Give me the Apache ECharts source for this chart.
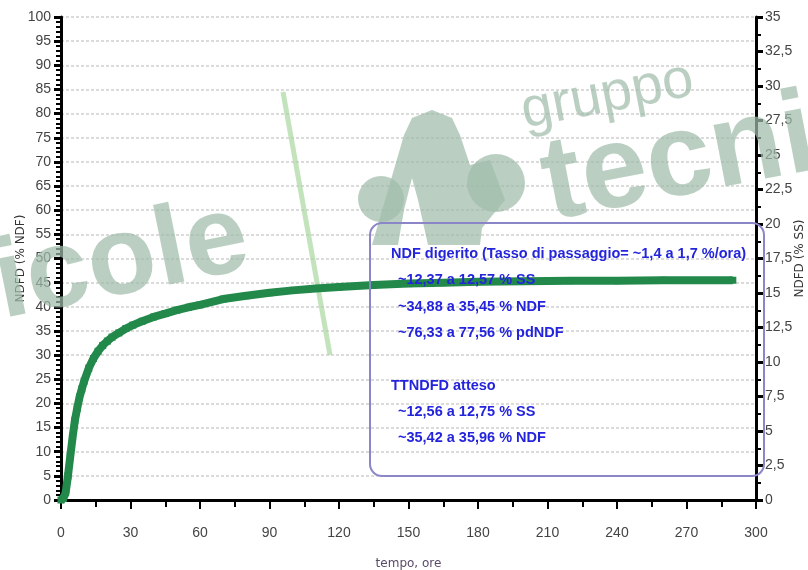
<!DOCTYPE html>
<html>
<head>
<meta charset="utf-8">
<script src="https://cdn.jsdelivr.net/npm/echarts@6/dist/echarts.min.js"></script>
<style>
  html, body { margin: 0; padding: 0; background: #fff; }
  #main { width: 808px; height: 570px; }
</style>
</head>
<body>
<div id="main"></div>
<script>
// ore
const tempo = [0, 1, 2, 3, 4, 5, 6, 7, 8, 9, 10, 12, 14, 16, 18, 20, 22, 25, 28, 31, 35, 40, 45, 50, 55, 60,
  70, 80, 90, 100, 110, 120, 135, 150, 165, 180, 200, 220, 240, 260, 290];
// NDFD (% NDF)
const ndfd = [0, 0.3, 1.5, 5, 9, 13, 16.5, 19, 21.3, 23, 24.6, 27.3, 29.3, 30.8, 32, 32.9, 33.7, 34.6, 35.5, 36.2, 37, 37.9, 38.6, 39.3, 39.9, 40.4,
  41.6, 42.3, 42.9, 43.4, 43.8, 44.1, 44.5, 44.8, 45.0, 45.2, 45.3, 45.4, 45.4, 45.5, 45.5];

const boxLines = [
  "NDF digerito (Tasso di passaggio= ~1,4 a 1,7 %/ora)",
  "  ~12,37 a 12,57 % SS",
  "  ~34,88 a 35,45 % NDF",
  "  ~76,33 a 77,56 % pdNDF",
  "",
  "TTNDFD atteso",
  "  ~12,56 a 12,75 % SS",
  "  ~35,42 a 35,96 % NDF"
];

const font = "'Liberation Sans', sans-serif";
const wm = "rgba(160,188,170,0.72)";
const chart = echarts.init(document.getElementById("main"));

const option = {
  animation: false,
  grid: { left: 61, right: 52, top: 17, bottom: 70, outerBoundsMode: "none" },
  xAxis: {
    type: "value",
    min: 0,
    max: 300,
    interval: 30,
    name: "tempo, ore",
    nameLocation: "middle",
    nameGap: 58,
    nameMoveOverlap: false,
    nameTextStyle: { color: "#5a4a6a", fontFamily: "'DejaVu Sans', sans-serif", fontSize: 12 },
    axisLine: { lineStyle: { color: "#000", width: 3 } },
    axisTick: { length: 9, lineStyle: { color: "#000", width: 2 } },
    minorTick: { show: true, splitNumber: 2, length: 7, lineStyle: { color: "#000", width: 2 } },
    axisLabel: { color: "#444", fontFamily: font, fontSize: 14, margin: 26 },
    splitLine: { show: false }
  },
  yAxis: [
    {
      type: "value",
      min: 0,
      max: 100,
      interval: 5,
      name: "NDFD (% NDF)",
      nameLocation: "middle",
      nameGap: 34,
      nameMoveOverlap: false,
      nameTextStyle: { color: "#333", fontFamily: "'DejaVu Sans', sans-serif", fontSize: 12 },
      axisLine: { show: true, lineStyle: { color: "#000", width: 3 } },
      axisTick: { show: true, length: 7, lineStyle: { color: "#000", width: 3 } },
      minorTick: { show: true, splitNumber: 5, length: 5, lineStyle: { color: "#000", width: 2 } },
      axisLabel: { color: "#444", fontFamily: font, fontSize: 14, margin: 10 },
      splitLine: { show: true, lineStyle: { color: "#cfcfcf", type: [3, 2], width: 1.5 } }
    },
    {
      type: "value",
      position: "right",
      min: 0,
      max: 35,
      interval: 2.5,
      name: "NDFD (% SS)",
      nameLocation: "middle",
      nameGap: 38,
      nameRotate: 90,
      nameMoveOverlap: false,
      nameTextStyle: { color: "#333", fontFamily: "'DejaVu Sans', sans-serif", fontSize: 12 },
      axisLine: { show: true, lineStyle: { color: "#000", width: 3 } },
      axisTick: { show: true, length: 7, lineStyle: { color: "#000", width: 3 } },
      minorTick: { show: true, splitNumber: 2, length: 5, lineStyle: { color: "#000", width: 2 } },
      axisLabel: {
        color: "#444", fontFamily: font, fontSize: 14, margin: 9,
        formatter: v => String(v).replace(".", ",")
      },
      splitLine: { show: false }
    }
  ],
  graphic: [
    // filigrana
    { type: "circle", z: 1, shape: { cx: 381, cy: 199, r: 23 }, style: { fill: wm } },
    { type: "circle", z: 1, shape: { cx: 496, cy: 183, r: 29 }, style: { fill: wm } },
    { type: "polygon", z: 1,
      shape: { points: [[372, 245], [404, 135], [412, 118], [432, 110], [452, 118], [460, 135], [470, 165],
        [490, 160], [505, 200], [482, 228], [480, 245], [428, 245], [418, 200], [412, 178], [404, 210], [398, 245]] },
      style: { fill: wm } },
    { type: "text", z: 1, x: 527, y: 140, rotation: 0.19,
      style: { text: "gruppo", fill: wm, font: "normal 56px 'Liberation Sans', sans-serif", textVerticalAlign: "bottom" } },
    { type: "text", z: 1, x: 555, y: 246, rotation: 0.19,
      style: { text: "tecnic", fill: wm, font: "bold 118px 'Liberation Sans', sans-serif", textVerticalAlign: "bottom" } },
    { type: "text", z: 1, x: 258, y: 292, rotation: 0.2,
      style: { text: "ricole", fill: wm, font: "bold 112px 'Liberation Sans', sans-serif", textAlign: "right", textVerticalAlign: "bottom" } },
    { type: "line", z: 1, shape: { x1: 283, y1: 92, x2: 330, y2: 355 },
      style: { stroke: "rgba(170,215,160,0.7)", lineWidth: 5 } },
    // riquadro
    { type: "rect", z: 50, shape: { x: 370, y: 223, width: 394, height: 253, r: 12 },
      style: { fill: "rgba(0,0,0,0)", stroke: "#8a86c8", lineWidth: 2 } },
    ...boxLines.map((t, i) => ({
      type: "text", z: 60, x: t.startsWith("  ") ? 398 : 391, y: 254 + i * 26.3,
      style: { text: t.trim(), fill: "#2424dc", font: "bold 14.5px " + font, textVerticalAlign: "middle" }
    }))
  ],
  series: [
    {
      type: "line",
      yAxisIndex: 0,
      z: 10,
      data: tempo.map((t, i) => [t, ndfd[i]]),
      symbol: "rect",
      symbolSize: 7,
      itemStyle: { color: "#22894b" },
      lineStyle: { color: "#22894b", width: 8 }
    }
  ]
};

chart.setOption(option);
</script>
</body>
</html>
